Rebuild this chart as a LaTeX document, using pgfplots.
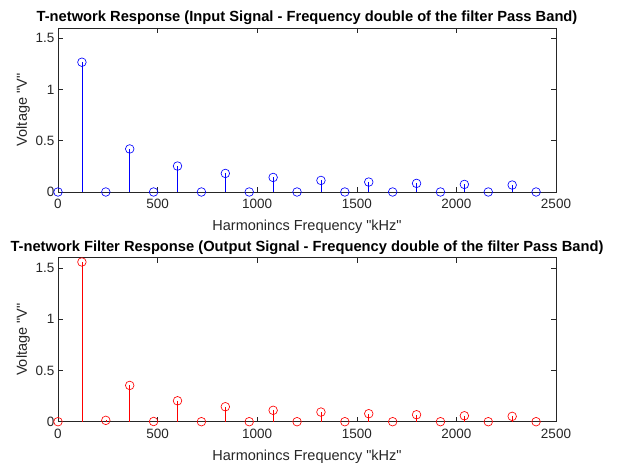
\documentclass[border=0pt]{standalone}
\usepackage{pgfplots}
\pgfplotsset{compat=1.18}
\usepackage{fontspec}
\setmainfont{Liberation Sans}[Ligatures=TeXOff]
\definecolor{axgray}{rgb}{0.15,0.15,0.15}
\definecolor{mblue}{rgb}{0,0,1}
\definecolor{mred}{rgb}{1,0,0}
\pgfplotsset{
  stemax/.style={
    scale only axis, width=498bp, height=164bp,
    xmin=0, xmax=2500, ymin=0, ymax=1.6,
    xtick={0,500,1000,1500,2000,2500},
    ytick={0,0.5,1,1.5},
    yticklabels={0,0.5,1,1.5},
    tick align=inside, tick pos=both,
    major tick length=5bp,
    axis line style={axgray, line width=0.6pt},
    every tick/.style={axgray, line width=0.6pt},
    tick label style={font=\fontsize{13.5bp}{15bp}\selectfont, text=axgray},
    xticklabel style={yshift=-4bp},
    label style={font=\fontsize{14.5bp}{16bp}\selectfont, text=axgray},
    title style={font=\bfseries\fontsize{14.7bp}{16bp}\selectfont, text=black, yshift=-6bp},
    /pgf/number format/assume math mode=true,
    /pgf/number format/1000 sep={},
    xlabel={Harmonincs Frequency "kHz"},
    ylabel={Voltage "V"},
    xlabel style={yshift=-4bp},
    ylabel style={yshift=-1bp},
    clip=false,
  },
  st/.style={draw=#1, line width=0.6pt, solid, mark=none, forget plot},
  stemmark/.style={only marks, mark=o, mark size=4.3bp, mark options={solid, draw=#1, fill=none, line width=0.65pt}},
}
\begin{document}
\begin{tikzpicture}
\path (0,0) rectangle (626bp,462bp);
\begin{axis}[stemax, at={(58bp,270bp)}, anchor=south west,
  title={T-network Response (Input Signal - Frequency double of the filter Pass Band)}]
\addplot[st=mblue] coordinates {(120,0) (120,1.266)};
\addplot[st=mblue] coordinates {(360,0) (360,0.42)};
\addplot[st=mblue] coordinates {(600,0) (600,0.253)};
\addplot[st=mblue] coordinates {(840,0) (840,0.181)};
\addplot[st=mblue] coordinates {(1080,0) (1080,0.142)};
\addplot[st=mblue] coordinates {(1320,0) (1320,0.113)};
\addplot[st=mblue] coordinates {(1560,0) (1560,0.097)};
\addplot[st=mblue] coordinates {(1800,0) (1800,0.084)};
\addplot[st=mblue] coordinates {(2040,0) (2040,0.074)};
\addplot[st=mblue] coordinates {(2280,0) (2280,0.068)};
\addplot[stemmark=mblue] coordinates {
(0,0) (120,1.266) (240,0) (360,0.42) (480,0) (600,0.253) (720,0) (840,0.181)
(960,0) (1080,0.142) (1200,0) (1320,0.113) (1440,0) (1560,0.097) (1680,0)
(1800,0.084) (1920,0) (2040,0.074) (2160,0) (2280,0.068) (2400,0)};
\end{axis}
\begin{axis}[stemax, at={(58bp,40.3bp)}, anchor=south west,
  title={T-network Filter Response (Output Signal - Frequency double of the filter Pass Band)}]
\addplot[st=mred] coordinates {(120,0) (120,1.558)};
\addplot[st=mred] coordinates {(240,0) (240,0.013)};
\addplot[st=mred] coordinates {(360,0) (360,0.354)};
\addplot[st=mred] coordinates {(600,0) (600,0.204)};
\addplot[st=mred] coordinates {(840,0) (840,0.146)};
\addplot[st=mred] coordinates {(1080,0) (1080,0.111)};
\addplot[st=mred] coordinates {(1320,0) (1320,0.094)};
\addplot[st=mred] coordinates {(1560,0) (1560,0.078)};
\addplot[st=mred] coordinates {(1800,0) (1800,0.068)};
\addplot[st=mred] coordinates {(2040,0) (2040,0.058)};
\addplot[st=mred] coordinates {(2280,0) (2280,0.052)};
\addplot[stemmark=mred] coordinates {
(0,0) (120,1.558) (240,0.013) (360,0.354) (480,0.002) (600,0.204) (720,0) (840,0.146)
(960,0) (1080,0.111) (1200,0) (1320,0.094) (1440,0) (1560,0.078) (1680,0)
(1800,0.068) (1920,0) (2040,0.058) (2160,0) (2280,0.052) (2400,0)};
\end{axis}
\end{tikzpicture}
\end{document}
